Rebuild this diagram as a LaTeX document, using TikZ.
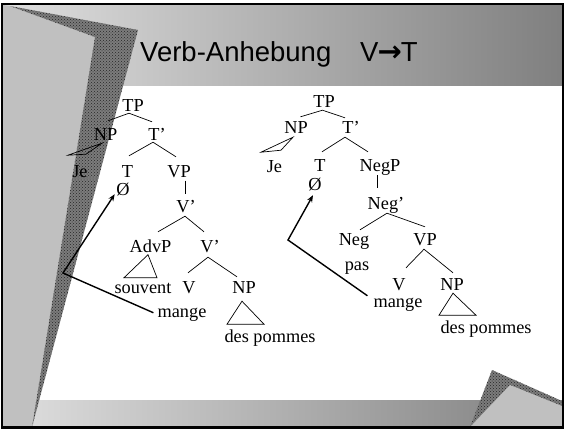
\documentclass[tikz,border=0pt]{standalone}
\usepackage{fontspec}
\setmainfont{Liberation Serif}
\newfontfamily\titlefont{Liberation Sans}
\newfontfamily\arrfont{DejaVu Sans}
\usetikzlibrary{calc,arrows.meta,patterns}
\definecolor{lgray}{HTML}{C0C0C0}
\definecolor{sgray}{HTML}{7C7C7C}
\begin{document}
\begin{tikzpicture}[x=1pt,y=-1pt,
  lab/.style={inner sep=0pt, text height=12.5pt, text depth=3pt, anchor=base, font=\fontsize{18.3}{20}\selectfont},
  branch/.style={line width=0.7pt},
  mv/.style={line width=1.4pt, line join=miter, -{Stealth[length=7pt,width=5.5pt]}},
  ttl/.style={inner sep=0pt, anchor=base west, font=\titlefont\fontsize{27.5}{30}\selectfont},
  stip/.style={fill=sgray, postaction={pattern=crosshatch dots, pattern color=black!85}}]
\useasboundingbox (0,0) rectangle (565,429);
% background
\fill[white] (2,4) rectangle (563,428);
\shade[left color=gray!25, right color=gray] (3,5) rectangle (562,85);
\shade[left color=gray!25, right color=gray] (3,400) rectangle (562,427);
% left decoration
\fill[lgray] (3,5) -- (10,6) -- (95,37) -- (32,427) -- (3,427) -- cycle;
\path[stip] (10,6) -- (138,30) -- (32,427) -- (95,37) -- cycle;
\begin{scope}
  \clip (10,6) -- (138,30) -- (32,427) -- (95,37) -- cycle;
  \foreach \yy in {63,120,178,236,293,349} \draw[black!55, line width=0.4pt] (0,\yy) -- (150,\yy);
  \draw[black!55, line width=0.4pt] (119,25) -- (119,90);
\end{scope}
% bottom-right decoration
\path[stip] (470,427) -- (492,370) -- (562,401) -- (562,427) -- cycle;
\fill[lgray] (470,427) -- (510,385) -- (562,406) -- (562,427) -- cycle;
% frame
\draw[line width=2.2pt] (2,4) rectangle (563,427.5);
% title
\node[ttl] (title) at (140,61) {Verb-Anhebung};
\node[ttl] (vt) at (360,61) {V\kern-1pt{\arrfont\bfseries\fontsize{29}{30}\selectfont →}\kern-1pt T};

% ---------- left tree ----------
\node[lab] (aTP) at (133,111) {TP};
\node[lab] (aNP) at (105.5,140) {NP};
\node[lab] (aTb) at (157,140) {T’};
\node[lab] (aJe) at (80,177) {Je};
\node[lab] (aT) at (127.5,177) {T};
\node[lab] (aVP) at (179,177) {VP};
\node[lab] (aO) at (123,195) {Ø};
\node[lab] (aVb) at (186,212) {V’};
\node[lab] (aAdvP) at (150.5,252) {AdvP};
\node[lab] (aVbb) at (210,252) {V’};
\node[lab] (asouvent) at (143,293) {souvent};
\node[lab] (aV) at (189,293) {V};
\node[lab] (aNPb) at (244,293) {NP};
\node[lab] (amange) at (182,317) {mange};
\node[lab] (ades) at (270,342) {des pommes};
\coordinate (aK) at (63,273);

\draw[branch] ($(aNP.north)+(2.5,-6.5)$) -- ($(aTP.south)+(-4,-1)$) -- ($(aTb.north)+(-5,-5.5)$);
\draw[branch] ($(aT.north)+(1.5,-8.5)$) -- ($(aTb.south)+(-4,-1)$) -- ($(aVP.north)+(-3,-7.5)$);
\draw[branch] ($(aNP.south)+(-3.5,0)$) -- ++(-34,12) -- ++(18,-1) -- cycle;
\draw[branch] ($(aVP.south)+(6,0.5)$) -- ($(aVb.north)+(-1,-5.5)$);
\draw[branch] ($(aAdvP.north)+(7.5,-7.5)$) -- ($(aVb.south)+(-1,1)$) -- ($(aVbb.north)+(-6,-7.5)$);
\draw[branch] ($(aAdvP.south)+(-2.5,-0.5)$) -- ++(-24,23) -- ++(33,0) -- cycle;
\draw[branch] ($(aV.north)+(-1,-7.5)$) -- ($(aVbb.south)+(-2,2)$) -- ($(aNPb.north)+(-7,-3.5)$);
\draw[branch] ($(aNPb.south)+(-2,5)$) -- ++(-15,23) -- ++(37,0) -- cycle;
\draw[mv] ($(amange.west)+(-4,0.5)$) -- (aK) -- ($(aO.south west)+(-1.5,-4)$);

% ---------- right tree ----------
\node[lab] (bTP) at (324,107) {TP};
\node[lab] (bNP) at (296,133) {NP};
\node[lab] (bTb) at (351,133) {T’};
\node[lab] (bJe) at (274.5,172) {Je};
\node[lab] (bT) at (320,171) {T};
\node[lab] (bNegP) at (380,171) {NegP};
\node[lab] (bO) at (315,190) {Ø};
\node[lab] (bNegb) at (386,209) {Neg’};
\node[lab] (bNeg) at (354,245) {Neg};
\node[lab] (bVP) at (425,245) {VP};
\node[lab] (bpas) at (357,270) {pas};
\node[lab] (bV) at (399,290) {V};
\node[lab] (bNPb) at (452,290) {NP};
\node[lab] (bmange) at (398,307) {mange};
\node[lab] (bdes) at (486,333) {des pommes};
\coordinate (bK) at (288,240);

\draw[branch] ($(bNP.north)+(4.5,-3.5)$) -- ($(bTP.south)+(-1.5,0)$) -- ($(bTb.north)+(-6,-2.5)$);
\draw[branch] ($(bNP.south)+(-3,1)$) -- ++(-32,15) -- ++(20,-2) -- cycle;
\draw[branch] ($(bT.north)+(2,-6.5)$) -- ($(bTb.south)+(-6,1)$) -- ($(bNegP.north)+(-12,-6.5)$);
\draw[branch] ($(bNegP.south)+(-3,1)$) -- ($(bNegb.north)+(-9,-8.5)$);
\draw[branch] ($(bNeg.north)+(6,-2.5)$) -- ($(bNegb.south)+(1,1)$) -- ($(bVP.north)+(0,-5.5)$);
\draw[branch] ($(bV.north)+(7,-9.5)$) -- ($(bVP.south)+(-1,1)$) -- ($(bNPb.north)+(1,-4.5)$);
\draw[branch] ($(bNPb.south)+(1,0)$) -- ++(-14,22) -- ++(37,0) -- cycle;
\draw[mv] ($(bmange.west)+(-6,-6.5)$) -- (bK) -- ($(bO.south)+(-2,2)$);
\end{tikzpicture}
\end{document}
